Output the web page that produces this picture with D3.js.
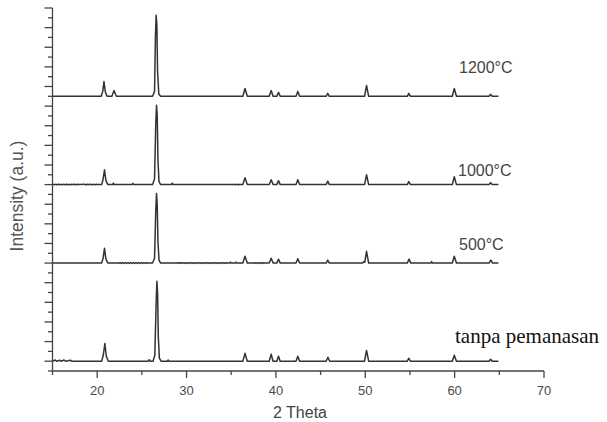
<!DOCTYPE html>
<html>
<head>
<meta charset="utf-8">
<script src="https://cdn.jsdelivr.net/npm/d3@7"></script>
<style>
  body { margin: 0; background: #fff; }
  svg { display: block; }
</style>
</head>
<body>
<svg width="607" height="422"></svg>
<script>
// XRD patterns, [2 theta, intensity above own baseline]
const s1200 = [[15.05,0],[20.45,0],[20.62,0.5],[20.76,1.5],[20.9,0.5],[21.1,0],[21.65,0],[21.88,0.6],[22.15,0],
  [26.2,0],[26.42,0.5],[26.52,6.2],[26.6,8.25],[26.68,7.2],[26.76,2.5],[26.9,0.2],[27.1,0],
  [36.3,0],[36.54,0.8],[36.8,0],[39.25,0],[39.47,0.6],[39.68,0],[40.1,0],[40.29,0.4],[40.48,0],
  [42.25,0],[42.45,0.5],[42.65,0],[45.62,0],[45.8,0.3],[45.98,0],[49.92,0],[50.14,1.1],[50.38,0],
  [54.7,0],[54.87,0.3],[55.05,0],[59.74,0],[59.96,0.8],[60.2,0],[63.85,0],[64.03,0.2],[64.2,0],[64.9,0]];

const s1000 = [[15.05,0.04],[15.2,-0.03],[15.35,0.04],[15.5,-0.03],[15.65,0.05],[15.8,-0.03],[15.95,0.04],[16.1,-0.03],
  [16.25,0.04],[16.4,-0.03],[16.55,0.05],[16.7,-0.03],[16.85,0.04],[17.0,-0.03],[17.15,0.04],[17.3,0],
  [17.5,0.04],[17.65,-0.03],[17.8,0.04],[17.95,0],[18.6,0.04],[18.75,-0.03],[18.9,0.04],[19.05,0],
  [19.3,0.04],[19.45,-0.03],[19.6,0.04],[19.75,-0.03],[19.9,0.04],[20.05,0],[20.5,0],
  [20.65,0.5],[20.82,1.5],[20.98,0.4],[21.2,0],[21.75,0],[21.82,0.15],[21.9,0],[23.9,0],[24.0,0.12],[24.1,0],
  [26.2,0],[26.42,0.6],[26.55,6],[26.64,8.1],[26.72,7],[26.8,2.5],[26.92,0.3],[27.1,0],[28.3,0],[28.4,0.15],[28.5,0],
  [35.2,0],[35.35,0.04],[35.5,-0.03],[35.65,0.04],[35.8,-0.03],[35.95,0.04],[36.1,0],[36.3,0],[36.54,0.7],[36.8,0],
  [39.25,0],[39.47,0.5],[39.68,0],[40.1,0],[40.29,0.4],[40.48,0],[42.25,0],[42.45,0.5],[42.65,0],
  [45.62,0],[45.8,0.35],[45.98,0],[49.92,0],[50.14,1.0],[50.38,0],[54.7,0],[54.87,0.3],[55.05,0],
  [59.74,0],[59.96,0.8],[60.2,0],[63.85,0],[64.03,0.2],[64.2,0],[64.9,0]];

const s500 = [[15.05,0],[20.5,0],[20.66,0.5],[20.82,1.5],[20.98,0.4],[21.2,0],
  [22.4,0],[22.55,0.04],[22.7,-0.03],[22.85,0.05],[23.0,-0.03],[23.15,0.04],[23.3,-0.03],[23.45,0.04],[23.6,-0.03],
  [23.75,0.05],[23.9,-0.03],[24.05,0.04],[24.2,-0.03],[24.35,0.04],[24.5,-0.03],[24.65,0.05],[24.8,-0.03],
  [24.95,0.04],[25.1,-0.03],[25.25,0.04],[25.4,-0.03],[25.55,0.04],[25.7,0],
  [26.2,0],[26.42,0.5],[26.55,5.2],[26.64,7.1],[26.72,6],[26.8,2.2],[26.92,0.3],[27.1,0],
  [28.9,0],[29.05,0.04],[29.2,-0.03],[29.35,0.05],[29.5,-0.03],[29.65,0.04],[29.8,-0.03],[29.95,0.04],[30.1,-0.03],
  [30.25,0.05],[30.4,-0.03],[30.55,0.04],[30.7,-0.03],[30.85,0.04],[31.0,-0.03],[31.15,0.05],[31.3,-0.03],
  [31.45,0.04],[31.6,-0.03],[31.75,0.04],[31.9,-0.03],[32.05,0.05],[32.2,-0.03],[32.35,0.04],[32.5,-0.03],
  [32.65,0.04],[32.8,-0.03],[32.95,0.05],[33.1,-0.03],[33.25,0.04],[33.4,-0.03],[33.55,0.04],[33.7,-0.03],
  [33.85,0.05],[34.0,-0.03],[34.15,0.04],[34.3,-0.03],[34.45,0.04],[34.6,0],
  [34.85,0],[34.92,0.1],[35.0,0],[35.45,0],[35.52,0.1],[35.6,0],[36.3,0],[36.54,0.7],[36.8,0],
  [37.5,0],[37.65,0.04],[37.8,-0.03],[37.95,0.04],[38.1,-0.03],[38.25,0.05],[38.4,-0.03],[38.55,0.04],[38.7,0],
  [39.25,0],[39.47,0.5],[39.68,0],[40.1,0],[40.29,0.4],[40.48,0],[42.25,0],[42.45,0.45],[42.65,0],
  [45.62,0],[45.8,0.3],[45.98,0],[49.7,0],[49.85,0.15],[49.95,0.1],[50.14,1.2],[50.38,0],
  [54.7,0],[54.9,0.4],[55.1,0],[57.35,0],[57.42,0.15],[57.5,0],
  [59.74,0],[59.96,0.7],[60.2,0],[63.85,0],[64.05,0.3],[64.25,0],[64.9,0]];

const s0 = [[15.05,0],[15.3,0.12],[15.45,0],[15.8,0.1],[15.95,0],[16.3,0.12],[16.45,0],[17.0,0.1],[17.15,0],
  [20.5,0],[20.68,0.6],[20.86,1.8],[21.02,0.5],[21.25,0],[25.7,0],[25.82,0.15],[25.95,0],
  [26.25,0],[26.45,0.6],[26.6,6],[26.68,8.15],[26.76,7],[26.84,2.5],[26.96,0.3],[27.15,0],[27.85,0],[27.95,0.12],[28.05,0],
  [36.3,0],[36.54,0.8],[36.8,0],[39.25,0],[39.47,0.7],[39.68,0],[40.1,0],[40.29,0.5],[40.48,0],
  [42.25,0],[42.45,0.5],[42.65,0],[45.62,0],[45.82,0.4],[46.02,0],[49.92,0],[50.14,1.1],[50.38,0],
  [54.7,0],[54.87,0.3],[55.05,0],[59.74,0],[59.96,0.6],[60.2,0],[63.85,0],[64.03,0.2],[64.2,0],[64.9,0]];

const seriesNames = ["1200°C", "1000°C", "500°C", "tanpa pemanasan"];
const seriesData = [s1200, s1000, s500, s0];
const baselines = [28, 19, 11, 1];

const xTicksMajor = [20, 30, 40, 50, 60, 70];
const xTicksMinor = [15, 25, 35, 45, 55, 65];
const yTicks = d3.range(0, 38);

const svg = d3.select("svg");
const x = d3.scaleLinear().domain([15, 70]).range([52.5, 544]);
const y = d3.scaleLinear().domain([0, 37]).range([371, 8]);

const axisColor = "#444";
const sans = "'Liberation Sans', Arial, sans-serif";

// x axis
const gx = svg.append("g").attr("transform", "translate(0,371)");
gx.append("line").attr("x1", x(15)).attr("x2", x(70)).attr("stroke", axisColor).attr("stroke-width", 1.3);
gx.selectAll(".maj").data(xTicksMajor).enter().append("line")
  .attr("x1", d => x(d)).attr("x2", d => x(d)).attr("y1", 0).attr("y2", 7)
  .attr("stroke", axisColor).attr("stroke-width", 1.3);
gx.selectAll(".min").data(xTicksMinor).enter().append("line")
  .attr("x1", d => x(d)).attr("x2", d => x(d)).attr("y1", 0).attr("y2", 4)
  .attr("stroke", axisColor).attr("stroke-width", 1.3);
gx.selectAll("text").data(xTicksMajor).enter().append("text")
  .attr("x", d => x(d)).attr("y", 24).attr("text-anchor", "middle")
  .attr("font-family", sans).attr("font-size", 13).attr("fill", "#4a4a4a")
  .text(d => d);
svg.append("text").attr("x", 300).attr("y", 418).attr("text-anchor", "middle")
  .attr("font-family", sans).attr("font-size", 16).attr("fill", "#444").text("2 Theta");

// y axis
const gy = svg.append("g").attr("transform", `translate(${x(15)},0)`);
gy.append("line").attr("y1", y(37)).attr("y2", y(0)).attr("stroke", axisColor).attr("stroke-width", 1.3);
gy.selectAll("line.t").data(yTicks).enter().append("line")
  .attr("y1", d => y(d)).attr("y2", d => y(d))
  .attr("x1", d => (37 - d) % 2 === 0 ? -8 : -4.5).attr("x2", 0)
  .attr("stroke", axisColor).attr("stroke-width", 1.3);
svg.append("text")
  .attr("transform", "translate(23,196) rotate(-90)")
  .attr("text-anchor", "middle").attr("font-family", sans).attr("font-size", 17.5)
  .attr("fill", "#555").text("Intensity (a.u.)");

// patterns
const line = d3.line();
seriesData.forEach((s, i) => {
  svg.append("path")
    .attr("d", line.x(d => x(d[0])).y(d => y(baselines[i] + d[1]))(s))
    .attr("fill", "none").attr("stroke", "#333").attr("stroke-width", 1.5)
    .attr("stroke-linejoin", "round");
});

// series labels
const labelPos = [[459, 73], [458, 176], [459, 250], [455, 343]];
seriesNames.forEach((n, i) => {
  const serif = i === 3;
  svg.append("text").attr("x", labelPos[i][0]).attr("y", labelPos[i][1])
    .attr("font-family", serif ? "'Liberation Serif', 'Times New Roman', serif" : sans)
    .attr("font-size", serif ? 21 : 16)
    .attr("fill", serif ? "#111" : "#444")
    .text(n);
});
</script>
</body>
</html>
